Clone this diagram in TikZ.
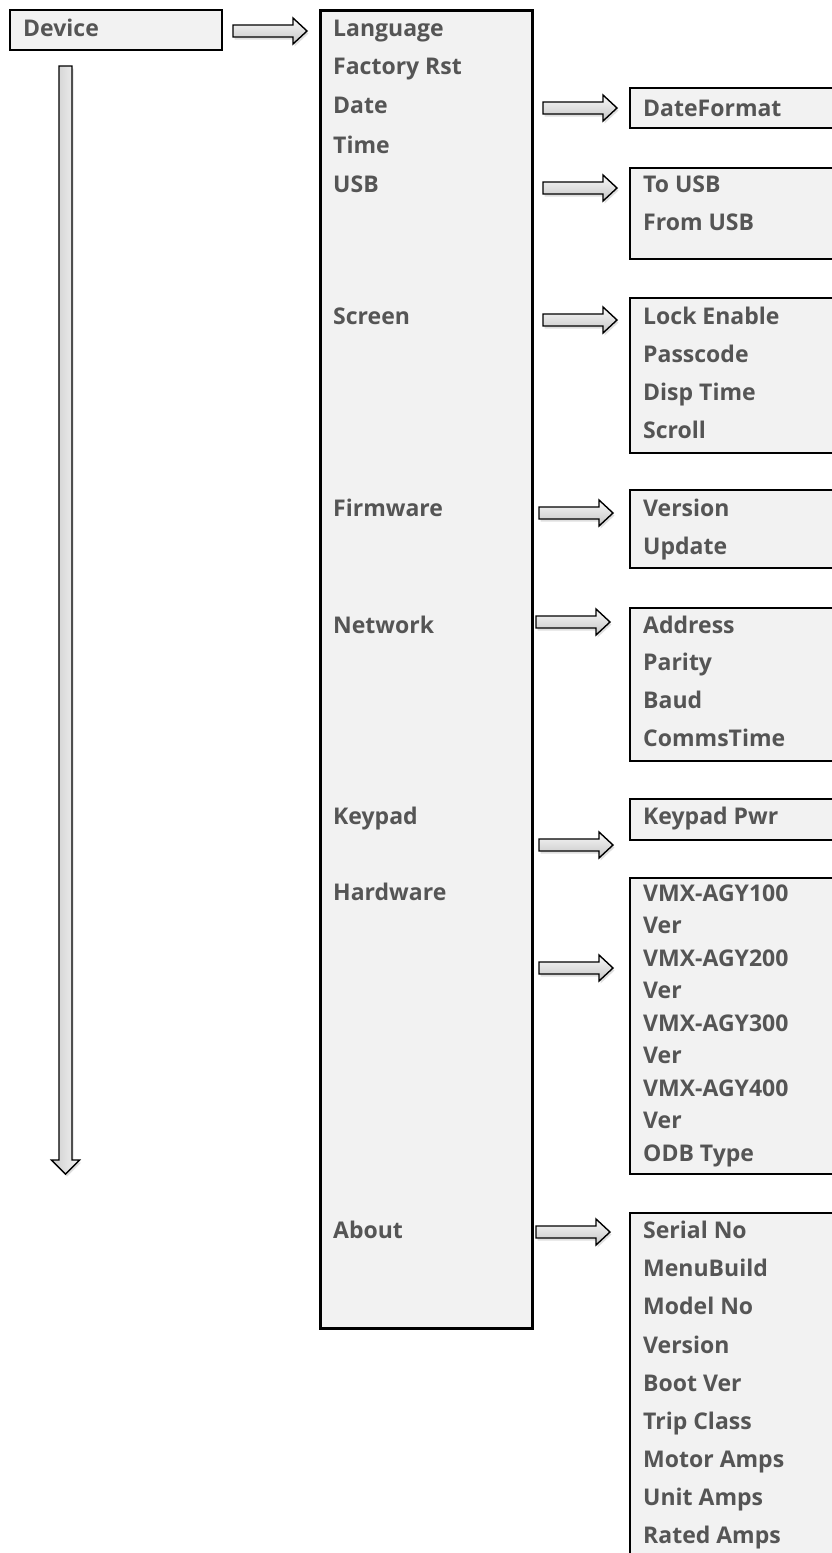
\documentclass[tikz,border=0pt]{standalone}
\usepackage{fontspec}
\setsansfont{Open Sans}
\usetikzlibrary{shadows}

\definecolor{menutext}{RGB}{85,85,85}
\definecolor{menufill}{RGB}{242,242,242}

\begin{document}
\begin{tikzpicture}[x=1pt, y=-1pt, font=\sffamily\bfseries\fontsize{23}{28}\selectfont,
      panel/.style={draw, line width=2.2pt, fill=menufill, anchor=north west, minimum width=260pt, inner sep=0pt},
      item/.style={anchor=base west, text=menutext, inner sep=0pt},
      arrowbody/.style={draw, line width=1.4pt, top color=gray!5, bottom color=gray!45,
        drop shadow={opacity=0.25, shadow xshift=1.5pt, shadow yshift=-2.5pt}},
      rarrow/.pic={\path[arrowbody] (0,-6) -- (60,-6) -- (60,-13) -- (74,0) -- (60,13) -- (60,6) -- (0,6) -- cycle;},
      darrow/.pic={\path[arrowbody, left color=gray!40, right color=gray!8] (-6.5,0) -- (-6.5,1094) -- (-14,1094) -- (0,1108) -- (14,1094) -- (6.5,1094) -- (6.5,0) -- cycle;}]
    \useasboundingbox (0,0) rectangle (832,1553);
    \clip (0,0) rectangle (832,1553);
    % boxes
    \node[panel, minimum width=212pt, minimum height=40pt] (dev)   at (9,9)    {};
    \node[panel, minimum width=212pt, minimum height=1318pt, line width=2.6pt] (menu) at (319,9) {};
    \node[panel, minimum height=40pt]  (datebox)  at (629,87)   {};
    \node[panel, minimum height=91pt]  (usbbox)   at (629,167)  {};
    \node[panel, minimum height=155pt] (scrbox)   at (629,297)  {};
    \node[panel, minimum height=78pt]  (fwbox)    at (629,489)  {};
    \node[panel, minimum height=153pt] (netbox)   at (629,607)  {};
    \node[panel, minimum height=41pt]  (keybox)   at (629,798)  {};
    \node[panel, minimum height=296pt] (hwbox)    at (629,877)  {};
    \node[panel, minimum height=400pt] (aboutbox) at (629,1212) {};
    % arrows
    \pic (devarr)   at (233,31)   {rarrow};
    \pic (downarr)  at (65.5,66)  {darrow};
    \pic (datearr)  at (543,108)  {rarrow};
    \pic (usbarr)   at (543,188)  {rarrow};
    \pic (scrarr)   at (543,320)  {rarrow};
    \pic (fwarr)    at (539,513)  {rarrow};
    \pic (netarr)   at (536,622)  {rarrow};
    \pic (keyarr)   at (539,845)  {rarrow};
    \pic (hwarr)    at (539,968)  {rarrow};
    \pic (aboutarr) at (536,1232) {rarrow};
    % device
    \node[item] (device) at (23,36) {Device};
    % main menu
    \node[item] (lang)  at (333,36)   {Language};
    \node[item] (rst)   at (333,74)   {Factory Rst};
    \node[item] (date)  at (333,113)  {Date};
    \node[item] (time)  at (333,153)  {Time};
    \node[item] (usb)   at (333,192)  {USB};
    \node[item] (scr)   at (333,324)  {Screen};
    \node[item] (fw)    at (333,516)  {Firmware};
    \node[item] (net)   at (333,633)  {Network};
    \node[item] (key)   at (333,824)  {Keypad};
    \node[item] (hw)    at (333,900)  {Hardware};
    \node[item] (about) at (333,1238) {About};
    % sub menus
    \node[item] (dfmt)  at (643,116)  {DateFormat};
    \node[item] (tousb) at (643,192)  {To USB};
    \node[item] (fromusb) at (643,230) {From USB};
    \node[item] (lock)  at (643,324)  {Lock Enable};
    \node[item] (pass)  at (643,362)  {Passcode};
    \node[item] (disp)  at (643,400)  {Disp Time};
    \node[item] (scroll) at (643,438) {Scroll};
    \node[item] (ver)   at (643,516)  {Version};
    \node[item] (upd)   at (643,554)  {Update};
    \node[item] (addr)  at (643,633)  {Address};
    \node[item] (par)   at (643,670)  {Parity};
    \node[item] (baud)  at (643,708)  {Baud};
    \node[item] (comms) at (643,746)  {CommsTime};
    \node[item] (kpwr)  at (643,824)  {Keypad Pwr};
    \node[item] (agya)  at (643,901)  {VMX-AGY100};
    \node[item] (vera)  at (643,933.5) {Ver};
    \node[item] (agyb)  at (643,966)  {VMX-AGY200};
    \node[item] (verb)  at (643,998.5) {Ver};
    \node[item] (agyc)  at (643,1031) {VMX-AGY300};
    \node[item] (verc)  at (643,1063.5) {Ver};
    \node[item] (agyd)  at (643,1096) {VMX-AGY400};
    \node[item] (verd)  at (643,1128.5) {Ver};
    \node[item] (odb)   at (643,1161) {ODB Type};
    \node[item] (serial) at (643,1238) {Serial No};
    \node[item] (build) at (643,1276) {MenuBuild};
    \node[item] (model) at (643,1314) {Model No};
    \node[item] (aver)  at (643,1353) {Version};
    \node[item] (boot)  at (643,1391) {Boot Ver};
    \node[item] (trip)  at (643,1429) {Trip Class};
    \node[item] (motor) at (643,1467) {Motor Amps};
    \node[item] (unit)  at (643,1505) {Unit Amps};
    \node[item] (rated) at (643,1543) {Rated Amps};
  \end{tikzpicture}
\end{document}
